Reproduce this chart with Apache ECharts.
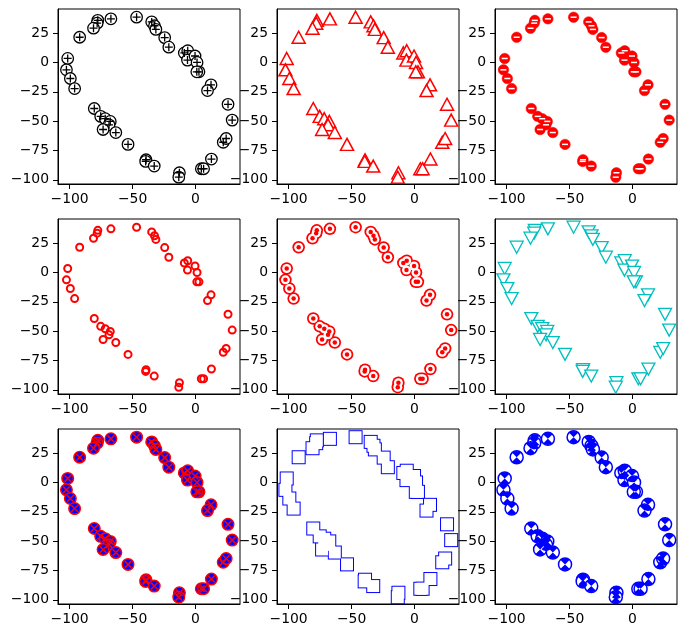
<!DOCTYPE html>
<html>
<head>
<meta charset="utf-8">
<script src="https://cdn.jsdelivr.net/npm/echarts@6/dist/echarts.min.js"></script>
<style>
html,body{margin:0;padding:0;background:#fff;}
#main{width:687px;height:638px;}
</style>
</head>
<body>
<div id="main"></div>
<script>
// Data
const xs = [-67.2, -46.8, -77.6, -78.1, -81.0, -92.0, -34.8, -32.6, -31.5, -24.5,
            -21.2, -8.9, -6.2, -6.4, -0.4, 1.2, 2.7, 1.0, 12.3, 9.5,
            -101.5, -102.5, -99.4, -96.0, -80.4, -75.3, -71.7, -67.7, -68.7, -73.4,
            -63.3, -53.6, -39.3, -39.6, -32.8, -12.8, -13.3, 4.6, 6.4, 12.6,
            22.0, 24.3, 25.8, 29.1];
const ys = [37.3, 38.7, 36.0, 33.6, 29.3, 21.6, 34.7, 31.4, 28.3, 21.3,
            13.1, 8.2, 10.1, 2.1, 5.6, 0.1, -7.9, -7.9, -19.0, -23.9,
            3.5, -6.2, -13.6, -22.2, -39.2, -45.9, -47.9, -50.2, -53.1, -57.1,
            -59.7, -69.8, -82.9, -84.3, -88.3, -94.0, -97.8, -90.6, -90.6, -82.3,
            -68.0, -64.8, -35.6, -49.1];
const xTickValues = [-100, -50, 0];
const yTickValues = [-100, -75, -50, -25, 0, 25];

const points = xs.map((x, i) => [x, ys[i]]);

const colLefts = [58, 277, 495];
const rowTops = [9, 219, 429];
const gw = 182, gh = 175;

const fmt = v => String(v).replace('-', '\u2212');
const font = {fontFamily: 'DejaVu Sans', fontSize: 13.9, color: '#000'};

const grids = [], xAxes = [], yAxes = [], series = [];
for (let r = 0; r < 3; r++) {
  for (let c = 0; c < 3; c++) {
    grids.push({left: colLefts[c], top: rowTops[r], width: gw, height: gh,
                show: true, borderColor: '#000', borderWidth: 1, backgroundColor: '#fff'});
    const idx = grids.length - 1;
    xAxes.push({type: 'value', gridIndex: idx, min: -109.2, max: 35.3,
      splitLine: {show: false},
      axisLine: {show: true, onZero: false, lineStyle: {color: '#000', width: 1}},
      axisTick: {show: true, inside: false, length: 5, lineStyle: {color: '#000'}, customValues: xTickValues},
      axisLabel: Object.assign({show: true, margin: 8, formatter: fmt, customValues: xTickValues}, font)});
    yAxes.push({type: 'value', gridIndex: idx, min: -103.6, max: 45.7,
      splitLine: {show: false},
      axisLine: {show: true, onZero: false, lineStyle: {color: '#000', width: 1}},
      axisTick: {show: true, inside: false, length: 5, lineStyle: {color: '#000'}, customValues: yTickValues},
      axisLabel: Object.assign({show: true, margin: 9, formatter: fmt, customValues: yTickValues}, font)});
  }
}

function sc(idx, symbol, size, style, extra) {
  series.push(Object.assign({
    type: 'scatter', xAxisIndex: idx, yAxisIndex: idx, data: points,
    symbol: symbol, symbolSize: size, itemStyle: Object.assign({opacity: 1}, style),
    silent: true, clip: true
  }, extra || {}));
}

const plusPath = 'path://M5,0 L5,10 M0,5 L10,5';
const xPath = 'path://M0,0 L10,10 M10,0 L0,10';
const wedgePath = 'path://M50,50 L14.64,14.64 A50,50 0 0 1 85.36,14.64 Z M50,50 L14.64,85.36 A50,50 0 0 0 85.36,85.36 Z';

// 1: circled plus, black
sc(0, 'circle', 11.5, {color: '#fff', borderColor: '#000', borderWidth: 1.3});
sc(0, plusPath, 8, {color: 'none', borderColor: '#000', borderWidth: 1.3});
// 2: red up triangles
sc(1, 'triangle', [13, 12], {color: '#fff', borderColor: '#ff0000', borderWidth: 1.5});
// 3: red filled circles with white minus
sc(2, 'circle', 10.5, {color: '#ff0000', borderColor: '#ff0000', borderWidth: 0.5});
sc(2, 'rect', [6, 1.5], {color: '#fff'});
// 4: hollow red circles
sc(3, 'circle', 7, {color: 'none', borderColor: '#ff0000', borderWidth: 2});
// 5: red ring with dot
sc(4, 'circle', 12.5, {color: '#ff0000'});
sc(4, 'circle', 9, {color: '#fff'});
sc(4, 'circle', 4.5, {color: '#ff0000'});
// 6: cyan down triangles
sc(5, 'triangle', [13, 12], {color: '#fff', borderColor: '#00bfbf', borderWidth: 1.3}, {symbolRotate: 180});
// 7: blue circles with red edge and red x
sc(6, 'circle', 11.5, {color: '#0000ff', borderColor: '#ff0000', borderWidth: 1.5});
sc(6, xPath, 6.5, {color: 'none', borderColor: '#ff0000', borderWidth: 1.5});
// 8: merged blue squares
sc(7, 'rect', 14, {color: '#0000ff'});
sc(7, 'rect', 12, {color: '#fff'});
// 9: blue circles with filled hourglass
sc(8, 'circle', 13, {color: '#fff', borderColor: '#0000ff', borderWidth: 1.5});
sc(8, wedgePath, [9, 12.5], {color: '#0000ff'});

const chart = echarts.init(document.getElementById('main'), null, {renderer: 'canvas'});
chart.setOption({
  animation: false,
  backgroundColor: '#fff',
  grid: grids, xAxis: xAxes, yAxis: yAxes, series: series
});
</script>
</body>
</html>
